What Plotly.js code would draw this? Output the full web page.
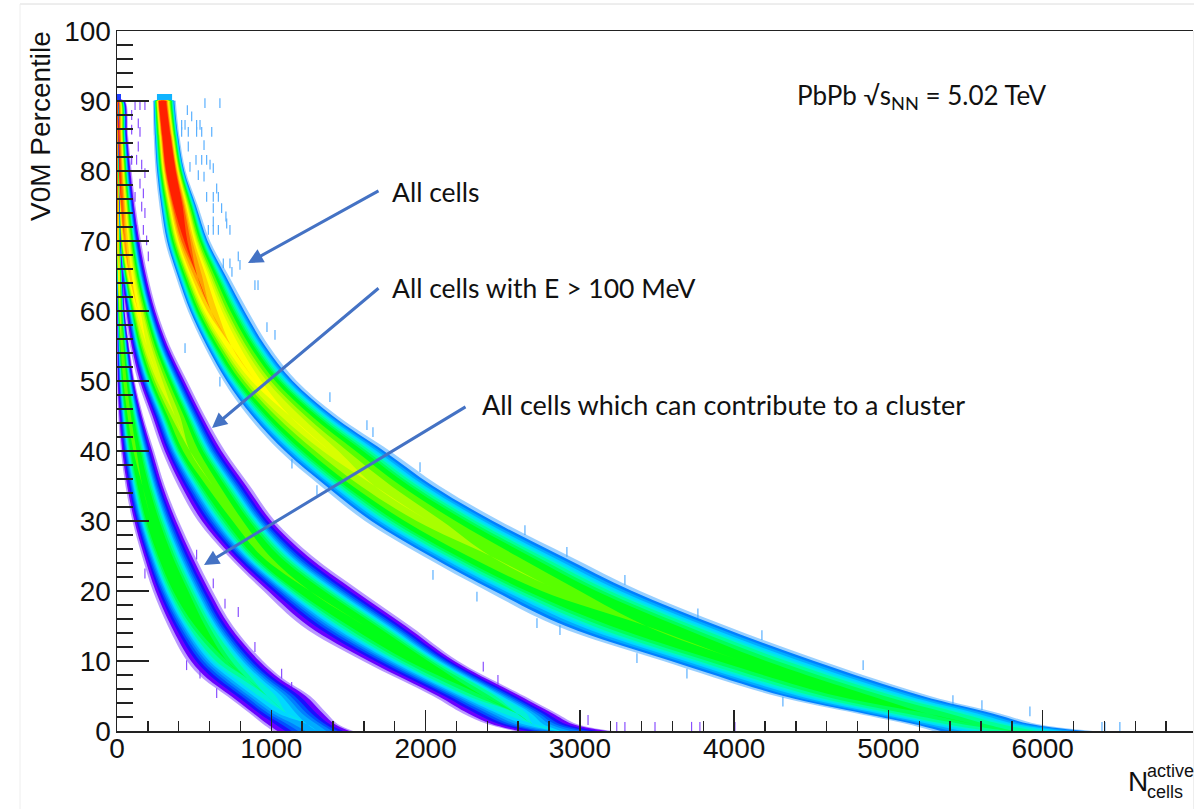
<!DOCTYPE html>
<html>
<head>
<meta charset="utf-8">
<script src="https://cdn.plot.ly/plotly-3.0.1.min.js"></script>
<style>html,body{margin:0;padding:0;background:#fff}#chart{width:1194px;height:809px}</style>
</head>
<body>
<div id="chart"></div>
<script>
// Values: for each band, at a percentile row, the outer left edge,
// the ridge (densest position), the outer right edge and the peak colour level.
var allPct   = [0,1,2.5,5,10,15,20,25,30,35,40,45,50,55,60,65,70,75,80,85,89.8,90];
var allLeft  = [5288,5120,4796,4270,3540,2850,2398,1983,1607,1320,1056,850,690,565,460,380,311,275,250,238,233,233];
var allRidge = [5800,5550,5250,4780,4050,3430,2870,2420,2020,1670,1380,1120,900,740,610,520,445,395,350,320,290,290];
var allRight = [6325,5962,5722,5269,4570,3950,3390,2930,2482,2090,1769,1430,1165,985,849,725,603,525,445,405,382,382];
var allPeak  = [.28,.31,.33,.36,.38,.42,.46,.50,.53,.56,.58,.61,.64,.68,.74,.82,.93,1.05,1.2,1.2,1.2,1.2];

var ePct   = [0,1,2.5,5,10,15,20,25,30,35,40,45,50,55,60,65,70,75,80,85,90];
var eLeft  = [2579,2398,2242,2048,1594,1200,950,720,525,395,292,214,135,84,52,25,0,0,0,0,0];
var eRidge = [2871,2696,2592,2372,1964,1607,1250,960,784,622,473,376,275,194,136,84,50,30,15,10,3];
var eRight = [3214,2980,2850,2640,2210,1900,1575,1265,1024,862,700,570,455,343,259,200,155,120,95,72,52];
var ePeak  = [.18,.22,.26,.32,.38,.40,.42,.43,.44,.46,.50,.54,.58,.62,.66,.72,.80,.90,.95,.95,.95];

var cPct   = [0,1,2.5,5,7.5,10,15,20,25,30,35,40,45,50,55,60,65,70,75,80,85,90];
var cLeft  = [1011,946,862,713,557,454,330,233,162,100,55,25,8,0,0,0,0,0,0,0,0,0];
var cRidge = [1296,1231,1102,972,843,713,538,408,305,225,165,115,78,50,30,18,10,5,4,3,2,1];
var cRight = [1530,1430,1361,1251,1076,946,752,620,505,400,310,240,170,115,80,52,40,25,18,12,8,5];
var cPeak  = [.19,.20,.22,.25,.27,.31,.36,.40,.41,.42,.42,.43,.44,.46,.50,.55,.70,.85,.95,1,1,1];

// Isolated counts standing apart from the bands (x, percentile)
var strayAllX = [570,667,456,484,419,441,516,538,419,462,516,549,614,564,462,512,549,581,603,624,527,564,473,646,657,581,624,624,678,706,592,624,657,732,624,711,786,732,689,894,745,797,441,972,1024,1380,1659,1620,914,1964,667,1296,1134,2644,2916,3292,3765,4180,2722,2333,2048,2871,3370,3694,4316,4836,5418,5606,5917,6403,6500,6384];
var strayAllY = [89.7,89.7,88.7,87.8,86.6,86.6,86.6,86.6,85.6,85.6,85.6,85.6,85.6,83.7,83.5,81.6,81.6,81.6,80.9,80.4,79.4,79.2,80.6,77.5,76.3,76.3,76.3,74.7,74.7,73.5,71.6,71.6,71.6,71.6,72.8,72.5,67.8,66.8,66.8,63.7,65.6,66.6,54.7,57.7,56.6,47.7,42.7,43.7,63.7,37.7,49.9,34.4,38.2,28.7,25.6,21.6,16.8,13.7,15.4,19.2,22.3,14.4,10.4,8.2,4.2,9.4,4.4,3.7,2.8,.6,.6,.6];
var strayLowX = [117,149,181,95,138,95,149,138,95,127,160,181,149,171,117,160,181,171,203,192,127,786,700,624,894,1067,1132,451,538,646,181,516,2374,2469,3053,3239,3292,3487,3724,3778,4005];
var strayLowY = [89.4,89.4,89.4,88,86.8,85.9,85.6,83.5,81.6,81.6,80.9,79.7,78.2,76.8,76.3,74.9,74,71.6,67.8,70.1,71.6,17,18.2,21.1,12,8.2,6.3,9.4,8.2,5.4,22.5,25.2,9.2,7.3,1.57,.6,.6,.6,.6,.6,.6];

// Top rows of the histograms (x extent, in the 90-91 percentile row)
var capAllX = [259,357]; var capLowX = [0,26]; var capPct = [90,91];

var xTicks = [0,1000,2000,3000,4000,5000,6000];
var yTicks = [0,10,20,30,40,50,60,70,80,90,100];

// Colour ramp of the histogram palette: colour and the density where it starts
var rampColors = ['#6a00ff','#1a10ff','#0050ff','#0080ff','#00acff','#00d8ff','#00f0d8','#00ff98','#00ff58','#00ff18','#58ff00','#a8ff00','#d8ff00','#ffff00','#ffd000','#ffa000','#ff6000','#ff2000'];
var rampLevels = [.05,.08,.11,.14,.17,.20,.23,.26,.30,.34,.42,.50,.56,.62,.70,.78,.85,.92];

function bandTraces(pct, left, ridge, right, peak, firstLevel, fringe) {
  var out = [];
  function poly(fn, color) {
    var xs = [], ys = [], i;
    for (i = 0; i < pct.length; i++) { xs.push(ridge[i] - (ridge[i] - left[i]) * fn(i)); ys.push(pct[i]); }
    for (i = pct.length - 1; i >= 0; i--) { xs.push(ridge[i] + (right[i] - ridge[i]) * fn(i)); ys.push(pct[i]); }
    out.push({type:'scatter', mode:'lines', x:xs, y:ys, fill:'toself', fillcolor:color,
              line:{width:0, color:color, shape:'spline', smoothing:1}, hoverinfo:'skip', showlegend:false});
  }
  poly(function(){ return 1; }, fringe);
  var t0 = rampLevels[firstLevel];
  for (var k = firstLevel; k < rampLevels.length; k++) {
    (function(level, color){
      poly(function(i){
        if (peak[i] <= level) return 0;
        return 0.9 * Math.sqrt(Math.log(peak[i] / level) / Math.log(peak[i] / t0));
      }, color);
    })(rampLevels[k], rampColors[k]);
  }
  return out;
}
function cap(xr, color) {
  return {type:'scatter', mode:'lines', x:[xr[0],xr[1],xr[1],xr[0]], y:[capPct[0],capPct[0],capPct[1],capPct[1]],
          fill:'toself', fillcolor:color, line:{width:0,color:color}, hoverinfo:'skip', showlegend:false};
}
function strays(xs, ys, color) {
  return {type:'scatter', mode:'markers', x:xs, y:ys, hoverinfo:'skip', showlegend:false,
          marker:{symbol:'line-ns', size:7, color:color, line:{width:1.2, color:color}}};
}

var data = [].concat(
  [strays(strayLowX, strayLowY, '#8a50ff'), strays(strayAllX, strayAllY, '#5ab0ff')],
  [cap(capLowX, '#2040ff'), cap(capAllX, '#10b4ff')],
  bandTraces(allPct, allLeft, allRidge, allRight, allPeak, 3, 'rgba(70,170,255,0.55)'),
  bandTraces(ePct, eLeft, eRidge, eRight, ePeak, 0, 'rgba(130,70,255,0.55)'),
  bandTraces(cPct, cLeft, cRidge, cRight, cPeak, 0, 'rgba(130,70,255,0.55)')
);

var L = 117, R = 1193, T = 31, B = 731;
function px(v){ return (v - L) / (R - L); }
function py(v){ return (B - v) / (B - T); }
var lato = 'Lato, "Open Sans", sans-serif';
function textFont(size){ return {family:lato, size:size, color:'#111'}; }
function label(text, xp, yp, font, extra) {
  return Object.assign({text:text, xref:'paper', yref:'paper', x:px(xp), y:py(yp), xanchor:'left', yanchor:'middle',
    showarrow:false, font:font}, extra||{});
}
function arrow(x0, y0, x1, y1) {
  return {text:'', xref:'paper', yref:'paper', x:px(x1), y:py(y1), ax:x0-x1, ay:y0-y1,
    axref:'pixel', ayref:'pixel', showarrow:true, arrowhead:2, arrowsize:1, arrowwidth:3, arrowcolor:'#4472c4'};
}
var helv = {family:'"Liberation Sans", Arial, sans-serif', color:'#111'};
var annotations = [
  label('PbPb √s<sub>NN</sub> = 5.02 TeV', 795, 96, textFont(26)),
  label('All cells', 390, 192, textFont(26.5)),
  label('All cells with E > 100 MeV', 390, 288, textFont(26.5)),
  label('All cells which can contribute to a cluster', 480, 404, textFont(27)),
  arrow(380,190,248,263),
  arrow(380,287,212,428),
  arrow(467,406,204,565),
  label('V0M Percentile', 41, 126, {family:helv.family, color:helv.color, size:28}, {textangle:-90, xanchor:'center'}),
  label('N', 1126, 781, {family:helv.family, color:helv.color, size:28}),
  label('active', 1145, 771, {family:helv.family, color:helv.color, size:18}),
  label('cells', 1145, 792, {family:helv.family, color:helv.color, size:18})
];
var frame = '#dcdcdc';
var shapes = [
  {type:'line', xref:'paper', yref:'paper', x0:px(20), x1:px(1194), y0:py(4), y1:py(4), line:{color:frame,width:1}},
  {type:'line', xref:'paper', yref:'paper', x0:px(20), x1:px(20), y0:py(4), y1:py(809), line:{color:'#eeeeee',width:1}},
  {type:'line', xref:'paper', yref:'paper', x0:px(1193.5), x1:px(1193.5), y0:py(31), y1:py(809), line:{color:'#eeeeee',width:1}}
];
var layout = {
  width:1194, height:809, autosize:false, showlegend:false,
  paper_bgcolor:'#fff', plot_bgcolor:'#fff',
  margin:{l:L, r:1194-R, t:T, b:809-B, pad:0},
  xaxis:{range:[0,6974], tickmode:'array', tickvals:xTicks, ticktext:xTicks.map(String), ticks:'inside', ticklen:21, tickwidth:1.5, tickcolor:'#222',
    minor:{dtick:200, ticks:'inside', ticklen:10, tickwidth:1.5, tickcolor:'#222', showgrid:false},
    showline:true, linecolor:'#222', linewidth:1.5, mirror:true, showgrid:false, zeroline:false,
    tickfont:{family:helv.family, size:28, color:'#111'}, ticklabelstandoff:-8},
  yaxis:{range:[0,100], tickmode:'array', tickvals:yTicks, ticktext:yTicks.map(String), ticks:'inside', ticklen:32, tickwidth:1.5, tickcolor:'#222',
    minor:{dtick:2, ticks:'inside', ticklen:16, tickwidth:1.5, tickcolor:'#222', showgrid:false},
    showline:true, linecolor:'#222', linewidth:1.5, showgrid:false, zeroline:false,
    tickfont:{family:helv.family, size:28, color:'#111'}, ticklabelstandoff:-1},
  annotations:annotations, shapes:shapes
};
Plotly.newPlot('chart', data, layout, {displayModeBar:false, staticPlot:true});
</script>
</body>
</html>
